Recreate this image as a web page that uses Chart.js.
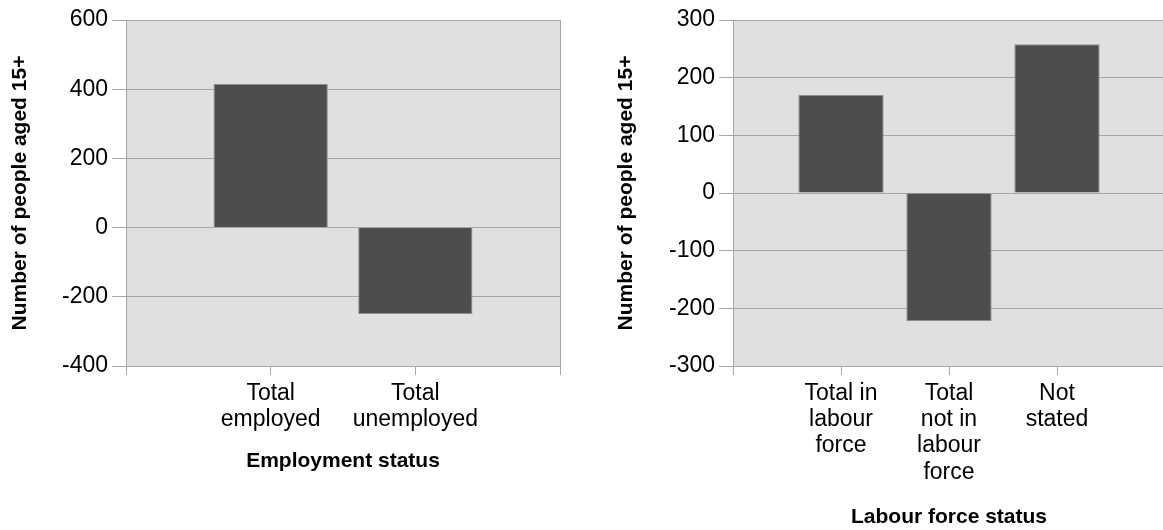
<!DOCTYPE html>
<html>
<head>
<meta charset="utf-8">
<script src="https://cdn.jsdelivr.net/npm/chart.js@4/dist/chart.umd.min.js"></script>
<style>
  html, body { margin: 0; padding: 0; background: #fff; overflow: hidden; width: 1163px; height: 530px; }
  .box { position: absolute; top: 0; height: 530px; }
  #left { left: 0; width: 580px; }
  #right { left: 600px; width: 575px; }
</style>
</head>
<body>
<div class="box" id="left"><canvas id="empChart"></canvas></div>
<div class="box" id="right"><canvas id="lfChart"></canvas></div>
<script>
// data
const empLabels = ['', ['Total', 'employed'], ['Total', 'unemployed'], ''];
const empValues = [null, 415, -250, null];

const lfLabels = ['', ['Total in', 'labour', 'force'], ['Total', 'not in', 'labour', 'force'], ['Not', 'stated'], ''];
const lfValues = [null, 170, -222, 258, null];

const yTitle = 'Number of people aged 15+';

const GRID = '#a6a6a6';
const BAR = '#4d4d4d';
const FONT = "'Liberation Sans', Arial, sans-serif";

// grey plot background
const plotBg = {
    id: 'plotBg',
    beforeDraw(chart) {
        const a = chart.chartArea;
        const ctx = chart.ctx;
        ctx.save();
        ctx.fillStyle = '#e0e0e0';
        ctx.fillRect(a.left, a.top, a.right - a.left, a.bottom - a.top);
        ctx.restore();
    }
};

const makeChart = (el, labels, values, opts) => {
    const lastIdx = labels.length - 1;
    return new Chart(el, {
        type: 'bar',
        data: {
            labels: labels,
            datasets: [{
                data: values,
                backgroundColor: BAR,
                borderColor: '#8c8c8c',
                borderWidth: 1,
                categoryPercentage: 1,
                barPercentage: 0.79
            }]
        },
        options: {
            responsive: true,
            maintainAspectRatio: false,
            animation: false,
            layout: { padding: opts.padding },
            plugins: { legend: { display: false }, tooltip: { enabled: false } },
            scales: {
                x: {
                    offset: false,
                    grid: {
                        offset: false,
                        color: c => (c.index === 0 || c.index === lastIdx) ? GRID : 'rgba(0,0,0,0)',
                        tickColor: GRID,
                        tickLength: 9,
                        lineWidth: 1
                    },
                    border: { color: GRID },
                    ticks: {
                        color: '#000',
                        font: { family: FONT, size: 23, lineHeight: 1.15 },
                        maxRotation: 0,
                        autoSkip: false,
                        padding: 5
                    },
                    title: {
                        display: true,
                        text: opts.xTitle,
                        color: '#000',
                        font: { family: FONT, size: 21, weight: 'bold' },
                        padding: { top: 10, bottom: 0 }
                    },
                    afterFit: s => { s.height = opts.xHeight; }
                },
                y: {
                    min: opts.min,
                    max: opts.max,
                    ticks: {
                        stepSize: opts.step,
                        color: '#000',
                        font: { family: FONT, size: 23 },
                        padding: 4
                    },
                    grid: { color: GRID, tickColor: GRID, tickLength: 14, lineWidth: 1 },
                    border: { color: GRID },
                    title: {
                        display: true,
                        text: yTitle,
                        color: '#000',
                        font: { family: FONT, size: 21, weight: 'bold' },
                        padding: { top: opts.yTitlePad, bottom: 8 }
                    },
                    afterFit: s => { s.width = opts.yWidth; }
                }
            }
        },
        plugins: [plotBg]
    });
};

makeChart(document.getElementById('empChart'), empLabels, empValues, {
    xTitle: 'Employment status',
    min: -400, max: 600, step: 200,
    yWidth: 126, xHeight: 108, yTitlePad: 8,
    padding: { top: 20, right: 20, left: 0, bottom: 56 }
});

makeChart(document.getElementById('lfChart'), lfLabels, lfValues, {
    xTitle: 'Labour force status',
    min: -300, max: 300, step: 100,
    yWidth: 133, xHeight: 164, yTitlePad: 14,
    padding: { top: 20, right: 10, left: 0, bottom: 0 }
});
</script>
</body>
</html>
